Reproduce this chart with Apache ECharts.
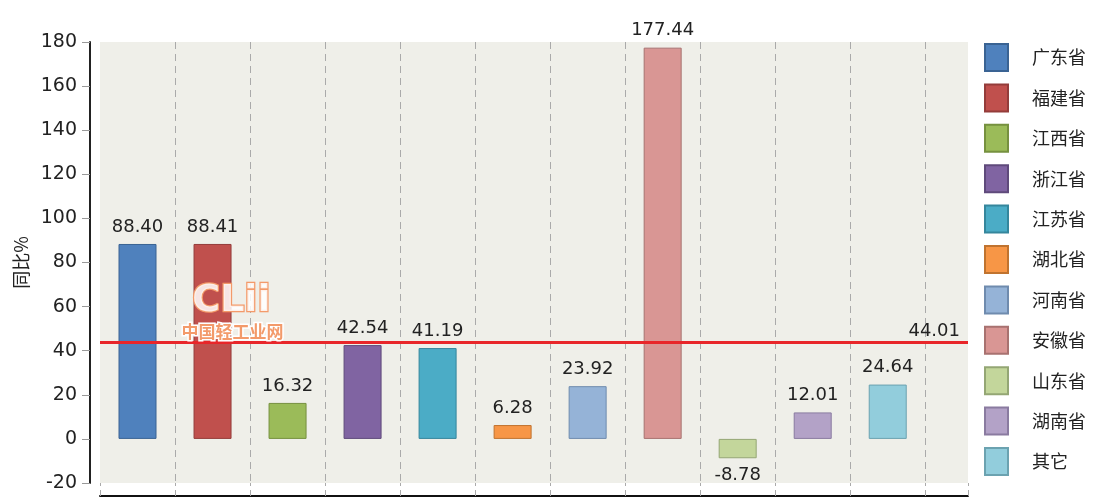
<!DOCTYPE html>
<html>
<head>
<meta charset="utf-8">
<script src="https://cdn.jsdelivr.net/npm/echarts@6/dist/echarts.min.js"></script>
<style>
  html, body { margin: 0; padding: 0; background: #fff; }
  #chart { width: 1097px; height: 497px; }
</style>
</head>
<body>
<div id="chart"></div>
<script>
// 各省同比数据
const provinces = ['广东省', '福建省', '江西省', '浙江省', '江苏省', '湖北省', '河南省', '安徽省', '山东省', '湖南省', '其它'];
const values = [88.40, 88.41, 16.32, 42.54, 41.19, 6.28, 23.92, 177.44, -8.78, 12.01, 24.64];
const average = 44.01;
const yTicks = { min: -20, max: 180, step: 20 };

const fills = ['#4F81BD', '#C0504D', '#9BBB59', '#8064A2', '#4BACC6', '#F79646', '#95B3D7', '#D99694', '#C3D69B', '#B3A2C7', '#92CDDC'];
const borders = ['#3A6393', '#943C3A', '#76913F', '#5F4A7B', '#35869C', '#C0732F', '#6F8BAE', '#A87270', '#94A674', '#8A7BA0', '#6BA2B0'];

const labelFont = { fontFamily: 'DejaVu Sans', fontSize: 18, color: '#222' };

const series = provinces.map((name, i) => {
  const s = {
    name: name,
    type: 'bar',
    barWidth: 38,
    barGap: '-100%',
    data: [{
      value: [i, values[i]],
      label: { position: values[i] < 0 ? 'bottom' : 'top' }
    }],
    itemStyle: { color: fills[i], borderColor: borders[i], borderWidth: 1 },
    label: {
      show: true,
      distance: 8,
      formatter: p => p.value[1].toFixed(2),
      ...labelFont
    }
  };
  if (i === 0) {
    // 平均线
    s.markLine = {
      silent: true,
      symbol: 'none',
      lineStyle: { color: '#E8262A', width: 3, type: 'solid' },
      label: { position: 'insideEndTop', formatter: average.toFixed(2), distance: [8, 2], ...labelFont },
      data: [{ yAxis: average }]
    };
  }
  return s;
});

const chart = echarts.init(document.getElementById('chart'));
chart.setOption({
  animation: false,
  grid: {
    left: 100, right: 129, top: 42, bottom: 14,
    show: true, backgroundColor: '#EFEFE9', borderWidth: 0
  },
  legend: {
    orient: 'vertical',
    left: 984, top: 43,
    padding: 0,
    height: 460,
    itemWidth: 23, itemHeight: 27, itemGap: 11.4,
    icon: 'rect',
    textStyle: { fontFamily: 'Noto Sans CJK SC', fontSize: 18, color: '#222', padding: [0, 0, 0, 19] },
    data: provinces
  },
  xAxis: {
    type: 'value',
    min: -0.5, max: 11.07, interval: 1,
    offset: 13,
    axisLine: { show: true, onZero: false, lineStyle: { color: '#111', width: 2 } },
    axisTick: { show: true, inside: true, length: 13, lineStyle: { color: '#aaa', type: [6, 4] } },
    axisLabel: { show: false },
    splitLine: { show: true, showMinLine: false, showMaxLine: false, lineStyle: { color: '#aaa', type: [7, 5] } }
  },
  yAxis: {
    type: 'value',
    min: yTicks.min, max: yTicks.max, interval: yTicks.step,
    offset: 10,
    name: '同比%',
    nameLocation: 'middle',
    nameGap: 60,
    nameTextStyle: { fontFamily: 'Noto Sans CJK SC', fontSize: 18, color: '#222' },
    axisLine: { show: true, onZero: false, lineStyle: { color: '#222', width: 2 } },
    axisTick: { show: true, length: 8, lineStyle: { color: '#999' } },
    axisLabel: { margin: 13, fontFamily: 'DejaVu Sans', fontSize: 19, color: '#222' },
    splitLine: { show: false }
  },
  // 水印
  graphic: [
    {
      type: 'text', left: 191, top: 281, z: 100,
      style: { text: 'CLii', font: 'bold 38px "DejaVu Sans"', fill: 'rgba(255,255,255,0.85)', stroke: '#F39A6A', lineWidth: 2.5 }
    },
    {
      type: 'text', left: 180, top: 322, z: 100,
      style: { text: '中国轻工业网', font: 'bold 17px "Noto Sans CJK SC"', fill: '#F39A6A', stroke: '#fff', lineWidth: 3 }
    }
  ],
  series: series
});
</script>
</body>
</html>
